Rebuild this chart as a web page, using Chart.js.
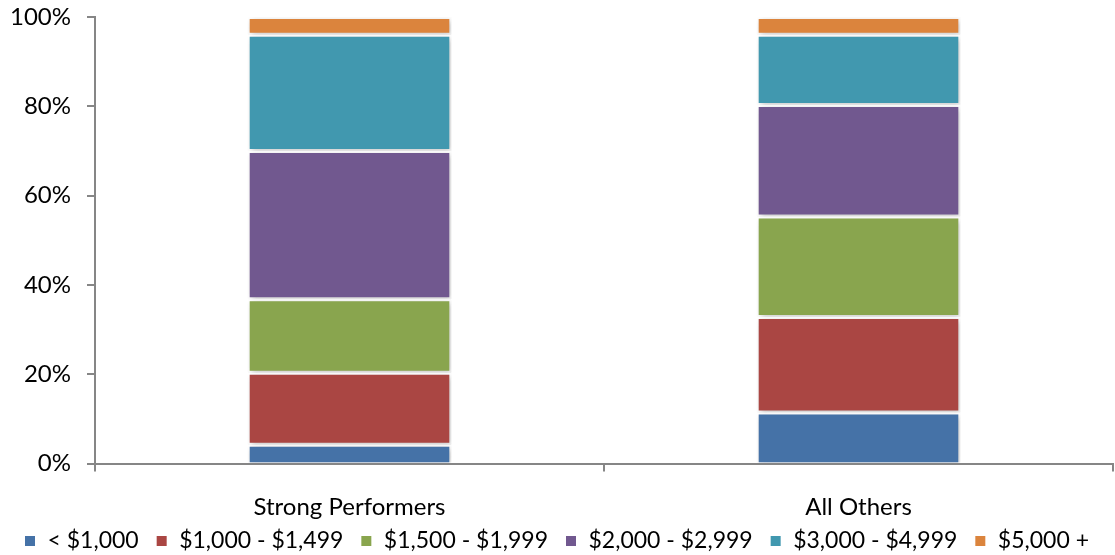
<!DOCTYPE html>
<html lang="en">
<head>
    <meta charset="UTF-8">
    <title>Stacked Share Chart</title>
    <script src="https://cdn.jsdelivr.net/npm/chart.js"></script>
    <style>
        body {
            margin: 0;
            background-color: #ffffff;
        }
        .chart-container {
            position: relative;
            width: 1115px;
            height: 555px;
        }
    </style>
</head>
<body>
    <div class="chart-container">
        <canvas id="chartCanvas"></canvas>
    </div>

    <script>
        const categories = ['Strong Performers', 'All Others'];
        const seriesNames = ['< $1,000', '$1,000 - $1,499', '$1,500 - $1,999', '$2,000 - $2,999', '$3,000 - $4,999', '$5,000 +'];
        const under1000 = [4.2, 11.4];
        const from1000 = [16.1, 21.4];
        const from1500 = [16.5, 22.5];
        const from2000 = [33.2, 25.0];
        const from3000 = [26.0, 15.7];
        const over5000 = [4.0, 4.0];
        const yTicks = [0, 20, 40, 60, 80, 100];

        const seriesValues = [under1000, from1000, from1500, from2000, from3000, over5000];
        const colors = ['#4572A7', '#AA4643', '#89A54E', '#71588F', '#4198AF', '#DB843D'];
        const axisColor = '#868686';
        const fontFamily = 'Lato, "Liberation Sans", sans-serif';

        // soft drop shadow behind the bars, like the original
        const barShadow = {
            id: 'barShadow',
            beforeDatasetsDraw(chart) {
                const ctx = chart.ctx;
                ctx.save();
                ctx.shadowColor = 'rgba(0,0,0,0.22)';
                ctx.shadowBlur = 6;
                ctx.shadowOffsetX = 2;
                ctx.shadowOffsetY = 2;
            },
            afterDatasetsDraw(chart) {
                chart.ctx.restore();
            }
        };

        // x labels sit close to the legend; don't let the scale box clip them
        const unclipLabels = {
            id: 'unclipLabels',
            afterLayout(chart) {
                chart.scales.x.bottom = chart.height;
            }
        };

        new Chart(document.getElementById('chartCanvas'), {
            type: 'bar',
            data: {
                labels: categories,
                datasets: seriesNames.map((name, i) => ({
                    label: name,
                    data: seriesValues[i],
                    backgroundColor: colors[i],
                    borderColor: '#ffffff',
                    borderWidth: 2,
                    // bottom segment sits right on the axis
                    borderSkipped: i === 0 ? 'start' : false,
                    categoryPercentage: 0.4,
                    barPercentage: 1.0
                }))
            },
            options: {
                responsive: true,
                maintainAspectRatio: false,
                animation: false,
                layout: { padding: { left: 0, right: 2, top: 17, bottom: -7.5 } },
                plugins: {
                    legend: {
                        position: 'bottom',
                        labels: {
                            boxWidth: 12,
                            boxHeight: 12,
                            padding: 17,
                            color: '#000000',
                            font: { family: fontFamily, size: 23 }
                        }
                    },
                    tooltip: { enabled: false },
                    title: { display: false }
                },
                scales: {
                    x: {
                        stacked: true,
                        border: { color: axisColor, width: 2 },
                        grid: {
                            display: true,
                            drawOnChartArea: false,
                            color: axisColor,
                            lineWidth: 2,
                            tickLength: 8
                        },
                        ticks: {
                            color: '#000000',
                            padding: 21,
                            font: { family: fontFamily, size: 24 }
                        },
                        afterFit(scale) {
                            scale.height = 49;
                            scale.paddingLeft = 0;
                            scale.paddingRight = 0;
                        }
                    },
                    y: {
                        stacked: true,
                        min: 0,
                        max: 100,
                        afterBuildTicks(scale) {
                            scale.ticks = yTicks.map(v => ({ value: v }));
                        },
                        border: { color: axisColor, width: 2 },
                        grid: {
                            display: true,
                            drawOnChartArea: false,
                            color: axisColor,
                            lineWidth: 2,
                            tickLength: 8
                        },
                        ticks: {
                            color: '#000000',
                            padding: 16,
                            font: { family: fontFamily, size: 24 },
                            callback: v => v + '%'
                        },
                        afterFit(scale) {
                            scale.width = 95;
                            scale.paddingTop = 0;
                            scale.paddingBottom = 0;
                        }
                    }
                }
            },
            plugins: [barShadow, unclipLabels]
        });
    </script>
</body>
</html>
